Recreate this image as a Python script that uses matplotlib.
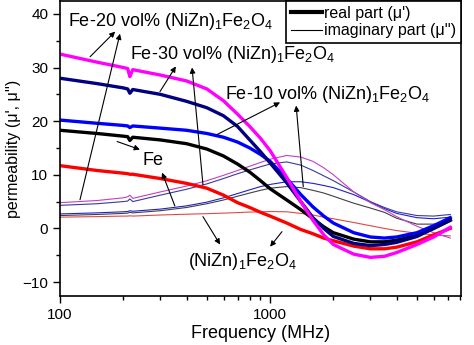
import matplotlib
matplotlib.use('Agg')
from matplotlib import pyplot as plt
from matplotlib.ticker import FixedLocator, MultipleLocator, NullFormatter

plt.rcParams['font.family'] = ['Liberation Sans', 'DejaVu Sans']
plt.rcParams['mathtext.fontset'] = 'custom'
plt.rcParams['mathtext.rm'] = 'Liberation Sans'
plt.rcParams['mathtext.it'] = 'Liberation Sans:italic'

# frequency points (MHz)
freq = [100, 150, 200, 210, 215, 222, 300, 400, 500, 600, 700, 800, 900, 1000,
        1200, 1400, 1600, 1800, 2000, 2500, 3000, 3500, 4000, 5000, 6000, 7200]

# real parts
fe20_re = [32.5, 31, 30, 29.8, 28.3, 29.6, 28.6, 27.5, 26, 23.8, 21.3, 19, 16.8, 14.5,
           9.5, 5, 1.5, -1.2, -3, -4.8, -5.4, -5.2, -4.5, -3, -1.6, 0.2]
fe30_re = [28, 27, 26.2, 26, 25.2, 25.9, 25, 23.7, 22.5, 21, 19, 16.5, 14.3, 12.2,
           8.5, 5, 2, 0, -1.5, -2.8, -3.2, -3, -2.6, -1.5, 0, 1.6]
fe10_re = [20.2, 19.6, 19.2, 19.1, 18.8, 19.1, 18.7, 18.3, 17.7, 17, 16.1, 15, 13.8, 12.5,
           9.3, 6.3, 4, 2.3, 1, -0.8, -1.6, -1.8, -1.6, -0.8, 0.5, 2]
fe_re = [18.3, 17.7, 17.2, 17.1, 16.4, 17, 16.5, 15.8, 14.8, 13.5, 12, 10.5, 8.9, 7.4,
         5.3, 3.5, 1.8, 0.3, -0.8, -2, -2.5, -2.5, -2.2, -1.3, 0, 1.5]
nizn_re = [11.7, 10.8, 10.3, 10.2, 10.1, 10.1, 9.3, 8.4, 7.5, 6.2, 4.8, 3.9, 3, 2.3,
           1, -0.2, -1, -1.8, -2.3, -3.3, -3.8, -3.8, -3.5, -2.5, -1.2, 0]

# imaginary parts
fe20_im = [4.8, 5.2, 5.7, 5.9, 6.2, 5.6, 6.8, 7.9, 8.9, 9.9, 10.8, 11.6, 12.3, 12.9,
           13.6, 13.3, 12.5, 11.3, 10, 6.8, 4.8, 3.5, 2.2, 0.4, -0.8, -1.8]
fe30_im = [4.3, 4.6, 5, 5.1, 5.5, 5, 6.2, 7.3, 8.3, 9.3, 10.2, 10.9, 11.5, 12,
           12.4, 11.8, 10.8, 9.8, 8.9, 6.8, 5, 3.9, 3.1, 2.4, 2.3, 2.6]
fe10_im = [2.7, 2.9, 3.1, 3.15, 3.3, 3.2, 3.6, 4.2, 4.9, 5.7, 6.5, 7.2, 7.8, 8.2,
           8.7, 8.7, 8.4, 8, 7.6, 6.3, 4.9, 3.7, 2.8, 2, 1.8, 2.1]
fe_im = [2.4, 2.6, 2.8, 2.85, 3, 2.9, 3.3, 3.9, 4.6, 5.3, 6, 6.6, 7.1, 7.5,
         7.8, 7.6, 7.1, 6.6, 6, 4.7, 3.8, 3, 1.9, 0.8, 0.8, 1.3]
nizn_im = [2.1, 2.2, 2.3, 2.3, 2.35, 2.3, 2.5, 2.65, 2.75, 2.85, 2.95, 3.05, 3.1, 3.15,
           3.1, 2.8, 2.5, 2.1, 1.8, 1.1, 0.5, 0, -0.4, -0.9, -1.2, -1.4]

fig = plt.figure(figsize=(4.74, 3.45), dpi=100)
ax = fig.add_axes([60/474, 1-296/345, 401/474, 295/345])

# thin lines first, thick on top
ax.plot(freq, nizn_im, color='#e04848', lw=0.8)
ax.plot(freq, fe_im, color='#404040', lw=0.8)
ax.plot(freq, fe10_im, color='#2020c8', lw=0.8)
ax.plot(freq, fe30_im, color='#3a3a9a', lw=0.8)
ax.plot(freq, fe20_im, color='#c040c8', lw=0.8)

ax.plot(freq, nizn_re, color='#ff0000', lw=2.4)
ax.plot(freq, fe_re, color='black', lw=2.4)
ax.plot(freq, fe10_re, color='#0000ff', lw=2.4)
ax.plot(freq, fe30_re, color='#000080', lw=2.4)
ax.plot(freq, fe20_re, color='#ff00ff', lw=2.4)

ax.set_xscale('log')
ax.set_xlim(100, 8100)
ax.set_ylim(-12.6, 42.4)
ax.xaxis.set_major_locator(FixedLocator([100, 1000]))
ax.xaxis.set_minor_locator(FixedLocator([200, 300, 400, 500, 600, 700, 800, 900,
                                         2000, 3000, 4000, 5000, 6000, 7000, 8000]))
ax.xaxis.set_minor_formatter(NullFormatter())
ax.set_xticklabels(['100', '1000'])
ax.yaxis.set_major_locator(MultipleLocator(10))
ax.yaxis.set_minor_locator(MultipleLocator(5))
ax.tick_params(which='major', direction='out', length=5, width=1, labelsize=11)
ax.tick_params(which='minor', direction='out', length=3, width=1)
for s in ax.spines.values():
    s.set_linewidth(1.2)

ax.set_xlabel('Frequency (MHz)', fontsize=13, labelpad=2)
ax.set_ylabel("permeability (\u03bc', \u03bc'')", fontsize=11.5, labelpad=1)

# legend
h1, = ax.plot([], [], color='black', lw=3)
h2, = ax.plot([], [], color='black', lw=0.8)
leg = ax.legend([h1, h2], ["real part (\u03bc')", "imaginary part (\u03bc'')"],
                loc='upper right', borderaxespad=0, fancybox=False, framealpha=1,
                edgecolor='black', fontsize=11.5, handlelength=2.0, handletextpad=0.1,
                borderpad=0.3, labelspacing=0.15)
leg.get_frame().set_linewidth(1.2)

ap = dict(arrowstyle='-|>', lw=0.8, color='black', mutation_scale=8, shrinkA=0, shrinkB=0)
fs = 13
ax.text(109, 38.5, 'Fe-20 vol% (NiZn)$_\\mathrm{1}$Fe$_\\mathrm{2}$O$_\\mathrm{4}$', fontsize=fs, va='center')
ax.annotate('', xy=(183, 36.7), xytext=(139, 32), arrowprops=ap)
ax.annotate('', xy=(193, 36.3), xytext=(124.5, 5.35), arrowprops=ap)

ax.text(215, 32.4, 'Fe-30 vol% (NiZn)$_\\mathrm{1}$Fe$_\\mathrm{2}$O$_\\mathrm{4}$', fontsize=fs, va='center')
ax.annotate('', xy=(356, 30.2), xytext=(299, 25.5), arrowprops=ap)
ax.annotate('', xy=(425, 30), xytext=(479, 8.15), arrowprops=ap)

ax.text(610, 24.9, 'Fe-10 vol% (NiZn)$_\\mathrm{1}$Fe$_\\mathrm{2}$O$_\\mathrm{4}$', fontsize=fs, va='center')
ax.annotate('', xy=(1115, 23.5), xytext=(559, 17.5), arrowprops=ap)
ax.annotate('', xy=(1330, 22.9), xytext=(1438, 7.8), arrowprops=ap)

ax.text(248, 12.6, 'Fe', fontsize=fs, va='center')
ax.annotate('', xy=(240, 14.7), xytext=(187, 16.2), arrowprops=ap)
ax.annotate('', xy=(306, 10.4), xytext=(352, 4.2), arrowprops=ap)

ax.text(407, -6.2, '(NiZn)$_\\mathrm{1}$Fe$_\\mathrm{2}$O$_\\mathrm{4}$', fontsize=fs, va='center')
ax.annotate('', xy=(578, -3), xytext=(479, 2.2), arrowprops=ap)
ax.annotate('', xy=(1000, -3.4), xytext=(1139, -0.6), arrowprops=ap)

fig.savefig('out.png', dpi=100)
